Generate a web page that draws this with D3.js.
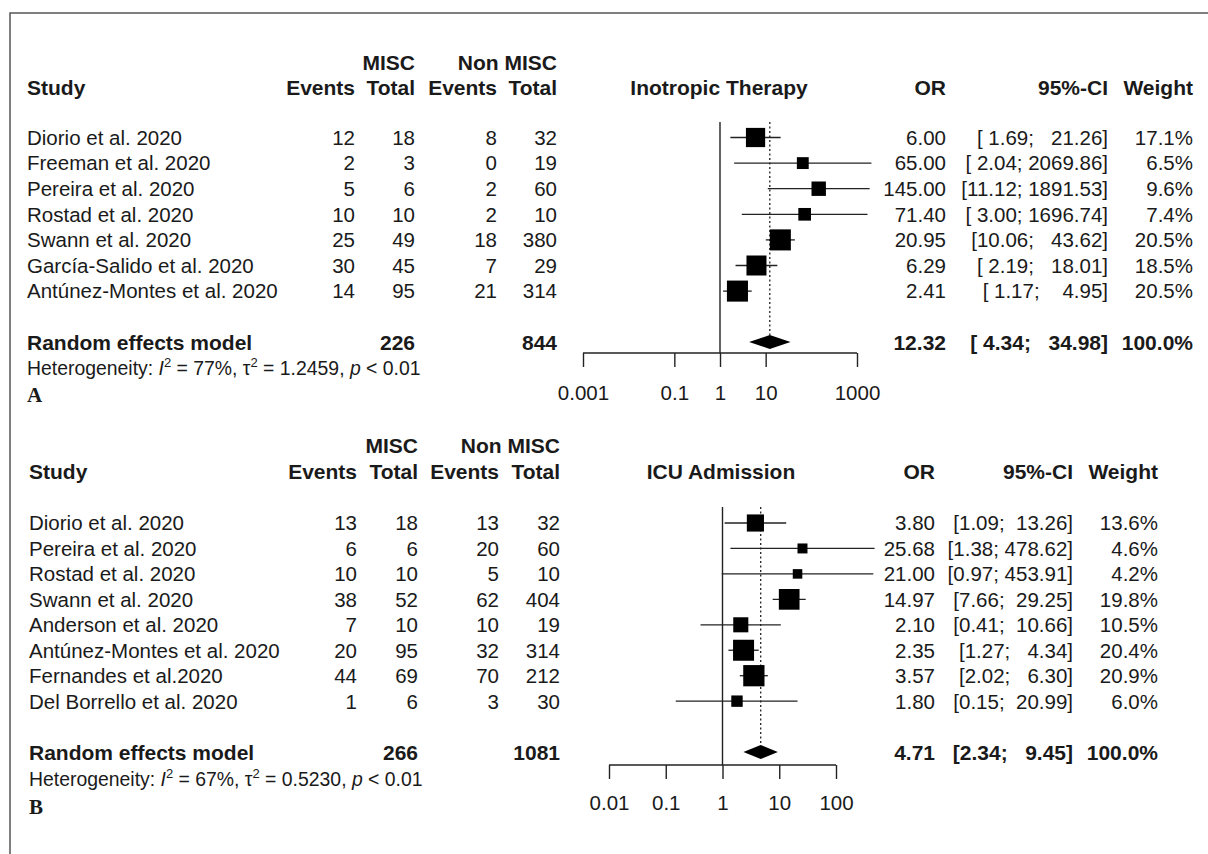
<!DOCTYPE html>
<html>
<head>
<meta charset="utf-8">
<script src="https://cdn.jsdelivr.net/npm/d3@7"></script>
<style>
  body { margin: 0; background: #fff; }
  svg text { fill: #1a1a1a; white-space: pre; }
</style>
</head>
<body>
<svg id="chart" width="1208" height="854"></svg>
<script>
// ---- panel A : Inotropic Therapy ----
var studiesA = ["Diorio et al. 2020", "Freeman et al. 2020", "Pereira et al. 2020", "Rostad et al. 2020",
  "Swann et al. 2020", "García-Salido et al. 2020", "Antúnez-Montes et al. 2020"];
var miscEventsA = [12, 2, 5, 10, 25, 30, 14];
var miscTotalA  = [18, 3, 6, 10, 49, 45, 95];
var nonEventsA  = [8, 0, 2, 2, 18, 7, 21];
var nonTotalA   = [32, 19, 60, 10, 380, 29, 314];
var orA     = [6.00, 65.00, 145.00, 71.40, 20.95, 6.29, 2.41];
var lowerA  = [1.69, 2.04, 11.12, 3.00, 10.06, 2.19, 1.17];
var upperA  = [21.26, 2069.86, 1891.53, 1696.74, 43.62, 18.01, 4.95];
var weightA = [17.1, 6.5, 9.6, 7.4, 20.5, 18.5, 20.5];
var pooledA = [12.32, 4.34, 34.98];
var totalsA = [226, 844];
var hetA    = ["77%", "1.2459", "0.01"];
var ticksA  = [0.001, 0.1, 1, 10, 1000];
var tickLabelsA = ["0.001", "0.1", "1", "10", "1000"];

// ---- panel B : ICU Admission ----
var studiesB = ["Diorio et al. 2020", "Pereira et al. 2020", "Rostad et al. 2020", "Swann et al. 2020",
  "Anderson et al. 2020", "Antúnez-Montes et al. 2020", "Fernandes et al.2020", "Del Borrello et al. 2020"];
var miscEventsB = [13, 6, 10, 38, 7, 20, 44, 1];
var miscTotalB  = [18, 6, 10, 52, 10, 95, 69, 6];
var nonEventsB  = [13, 20, 5, 62, 10, 32, 70, 3];
var nonTotalB   = [32, 60, 10, 404, 19, 314, 212, 30];
var orB     = [3.80, 25.68, 21.00, 14.97, 2.10, 2.35, 3.57, 1.80];
var lowerB  = [1.09, 1.38, 0.97, 7.66, 0.41, 1.27, 2.02, 0.15];
var upperB  = [13.26, 478.62, 453.91, 29.25, 10.66, 4.34, 6.30, 20.99];
var weightB = [13.6, 4.6, 4.2, 19.8, 10.5, 20.4, 20.9, 6.0];
var pooledB = [4.71, 2.34, 9.45];
var totalsB = [266, 1081];
var hetB    = ["67%", "0.5230", "0.01"];
var ticksB  = [0.01, 0.1, 1, 10, 100];
var tickLabelsB = ["0.01", "0.1", "1", "10", "100"];

var svg = d3.select("#chart");
var f2 = d3.format(".2f");
var ink = "#222";
var sans = "'Liberation Sans', Arial, sans-serif";

// frame (left and top only)
svg.append("path")
  .attr("d", "M10,854 L10,13 L1208,13")
  .attr("fill", "none").attr("stroke", "#555").attr("stroke-width", 1.5);

function pad(s, n) { while (s.length < n) s = " " + s; return s; }

function drawPanel(p) {
  var g = svg.append("g");
  var rowY = function(i) { return p.row0 + i * p.step; };
  var x = d3.scaleLog().domain(p.domain).range(p.range);

  function txt(xx, yy, s, anchor, bold, size) {
    return g.append("text").attr("x", xx).attr("y", yy).attr("dy", "0.36em")
      .attr("text-anchor", anchor || "start")
      .style("font-family", sans)
      .style("font-weight", bold ? "bold" : "normal")
      .style("font-size", (size || (bold ? 21 : 20.5)) + "px")
      .text(s);
  }

  // headers
  txt(p.cols[1], p.h1, "MISC", "end", true);
  txt(p.cols[3], p.h1, "Non MISC", "end", true);
  txt(p.studyX, p.h2, "Study", "start", true);
  ["Events", "Total", "Events", "Total"].forEach(function(s, k) { txt(p.cols[k], p.h2, s, "end", true); });
  txt(p.titleX, p.h2, p.title, "middle", true);
  txt(p.orX, p.h2, "OR", "end", true);
  txt(p.ciX, p.h2, "95%-CI", "end", true);
  txt(p.wX, p.h2, "Weight", "end", true);

  // CI string widths as R pads them
  var lw = d3.max(p.lower.concat([p.pooled[1]]), function(v) { return f2(v).length; });
  var uw = d3.max(p.upper.concat([p.pooled[2]]), function(v) { return f2(v).length; });
  var ci = function(l, u) { return "[" + pad(f2(l), lw) + "; " + pad(f2(u), uw) + "]"; };

  // study rows
  p.studies.forEach(function(s, i) {
    var y = rowY(i);
    txt(p.studyX, y, s);
    txt(p.cols[0], y, String(p.me[i]), "end");
    txt(p.cols[1], y, String(p.mt[i]), "end");
    txt(p.cols[2], y, String(p.ne[i]), "end");
    txt(p.cols[3], y, String(p.nt[i]), "end");
    txt(p.orX, y, f2(p.or[i]), "end");
    txt(p.ciX, y, ci(p.lower[i], p.upper[i]), "end");
    txt(p.wX, y, p.weight[i].toFixed(1) + "%", "end");
  });

  // summary row
  txt(p.studyX, p.sumY, "Random effects model", "start", true);
  txt(p.cols[1], p.sumY, String(p.totals[0]), "end", true);
  txt(p.cols[3], p.sumY, String(p.totals[1]), "end", true);
  txt(p.orX, p.sumY, f2(p.pooled[0]), "end", true);
  txt(p.ciX, p.sumY, ci(p.pooled[1], p.pooled[2]), "end", true);
  txt(p.wX, p.sumY, "100.0%", "end", true);

  // heterogeneity
  var ht = txt(p.studyX, p.hetY, "", "start", false, 19.4);
  ht.append("tspan").text("Heterogeneity: ");
  ht.append("tspan").style("font-style", "italic").text("I");
  ht.append("tspan").style("font-size", "13px").attr("dy", -8).text("2");
  ht.append("tspan").attr("dy", 8).text(" = " + p.het[0] + ", \u03c4");
  ht.append("tspan").style("font-size", "13px").attr("dy", -8).text("2");
  ht.append("tspan").attr("dy", 8).text(" = " + p.het[1] + ", ");
  ht.append("tspan").style("font-style", "italic").text("p");
  ht.append("tspan").text(" < " + p.het[2]);

  g.append("text").attr("x", p.studyX).attr("y", p.labY).attr("dy", "0.36em")
    .style("font-family", "'Liberation Serif', 'DejaVu Serif', serif")
    .style("font-weight", "bold").style("font-size", "21px").text(p.label);

  // reference line at OR = 1
  g.append("line").attr("x1", x(1)).attr("x2", x(1))
    .attr("y1", p.refTop).attr("y2", p.axisY)
    .attr("stroke", ink).attr("stroke-width", 1.4);

  // pooled estimate dotted line + diamond
  var dh = 7;
  g.append("line").attr("x1", x(p.pooled[0])).attr("x2", x(p.pooled[0]))
    .attr("y1", p.refTop).attr("y2", p.sumY - dh)
    .attr("stroke", ink).attr("stroke-width", 1.3).attr("stroke-dasharray", "2,2.5");

  // confidence intervals and squares
  p.studies.forEach(function(s, i) {
    var y = rowY(i);
    g.append("line").attr("x1", x(p.lower[i])).attr("x2", x(p.upper[i]))
      .attr("y1", y).attr("y2", y).attr("stroke", ink).attr("stroke-width", 1.3);
    var side = 4.65 * Math.sqrt(p.weight[i]);
    g.append("rect").attr("x", x(p.or[i]) - side / 2).attr("y", y - side / 2)
      .attr("width", side).attr("height", side).attr("fill", "#000");
  });

  g.append("path")
    .attr("d", "M" + x(p.pooled[1]) + "," + p.sumY + "L" + x(p.pooled[0]) + "," + (p.sumY - dh) +
      "L" + x(p.pooled[2]) + "," + p.sumY + "L" + x(p.pooled[0]) + "," + (p.sumY + dh) + "Z")
    .attr("fill", "#000");

  // axis
  var ax = g.append("g").attr("transform", "translate(0," + p.axisY + ")")
    .call(d3.axisBottom(x).tickValues(p.ticks).tickSizeOuter(0).tickSize(14)
      .tickFormat(function(d, i) { return p.tickLabels[i]; }));
  ax.select(".domain").attr("stroke", ink).attr("stroke-width", 1.4)
    .attr("d", "M" + x(p.ticks[0]) + ",0H" + x(p.ticks[p.ticks.length - 1]));
  ax.selectAll(".tick line").attr("stroke", ink).attr("stroke-width", 1.4);
  ax.selectAll(".tick text").style("font-size", "20.5px").style("font-family", sans)
    .attr("fill", "#1a1a1a")
    .attr("y", p.tickLabY - p.axisY).attr("dy", "0.36em");
}

drawPanel({
  studies: studiesA, me: miscEventsA, mt: miscTotalA, ne: nonEventsA, nt: nonTotalA,
  or: orA, lower: lowerA, upper: upperA, weight: weightA, pooled: pooledA, totals: totalsA,
  het: hetA, ticks: ticksA, tickLabels: tickLabelsA, title: "Inotropic Therapy", label: "A",
  domain: [0.001, 1000], range: [583, 857],
  studyX: 27, cols: [355, 415, 497, 557], orX: 946, ciX: 1108, wX: 1193, titleX: 719,
  h1: 62, h2: 87, row0: 137.5, step: 25.6, sumY: 342, hetY: 368, labY: 394,
  refTop: 122, axisY: 353, tickLabY: 393
});

drawPanel({
  studies: studiesB, me: miscEventsB, mt: miscTotalB, ne: nonEventsB, nt: nonTotalB,
  or: orB, lower: lowerB, upper: upperB, weight: weightB, pooled: pooledB, totals: totalsB,
  het: hetB, ticks: ticksB, tickLabels: tickLabelsB, title: "ICU Admission", label: "B",
  domain: [0.01, 100], range: [609, 836],
  studyX: 29, cols: [357, 418, 499, 560], orX: 935, ciX: 1073, wX: 1158, titleX: 721,
  h1: 445, h2: 471, row0: 523, step: 25.45, sumY: 752, hetY: 779, labY: 806,
  refTop: 507, axisY: 765, tickLabY: 803
});
</script>
</body>
</html>
